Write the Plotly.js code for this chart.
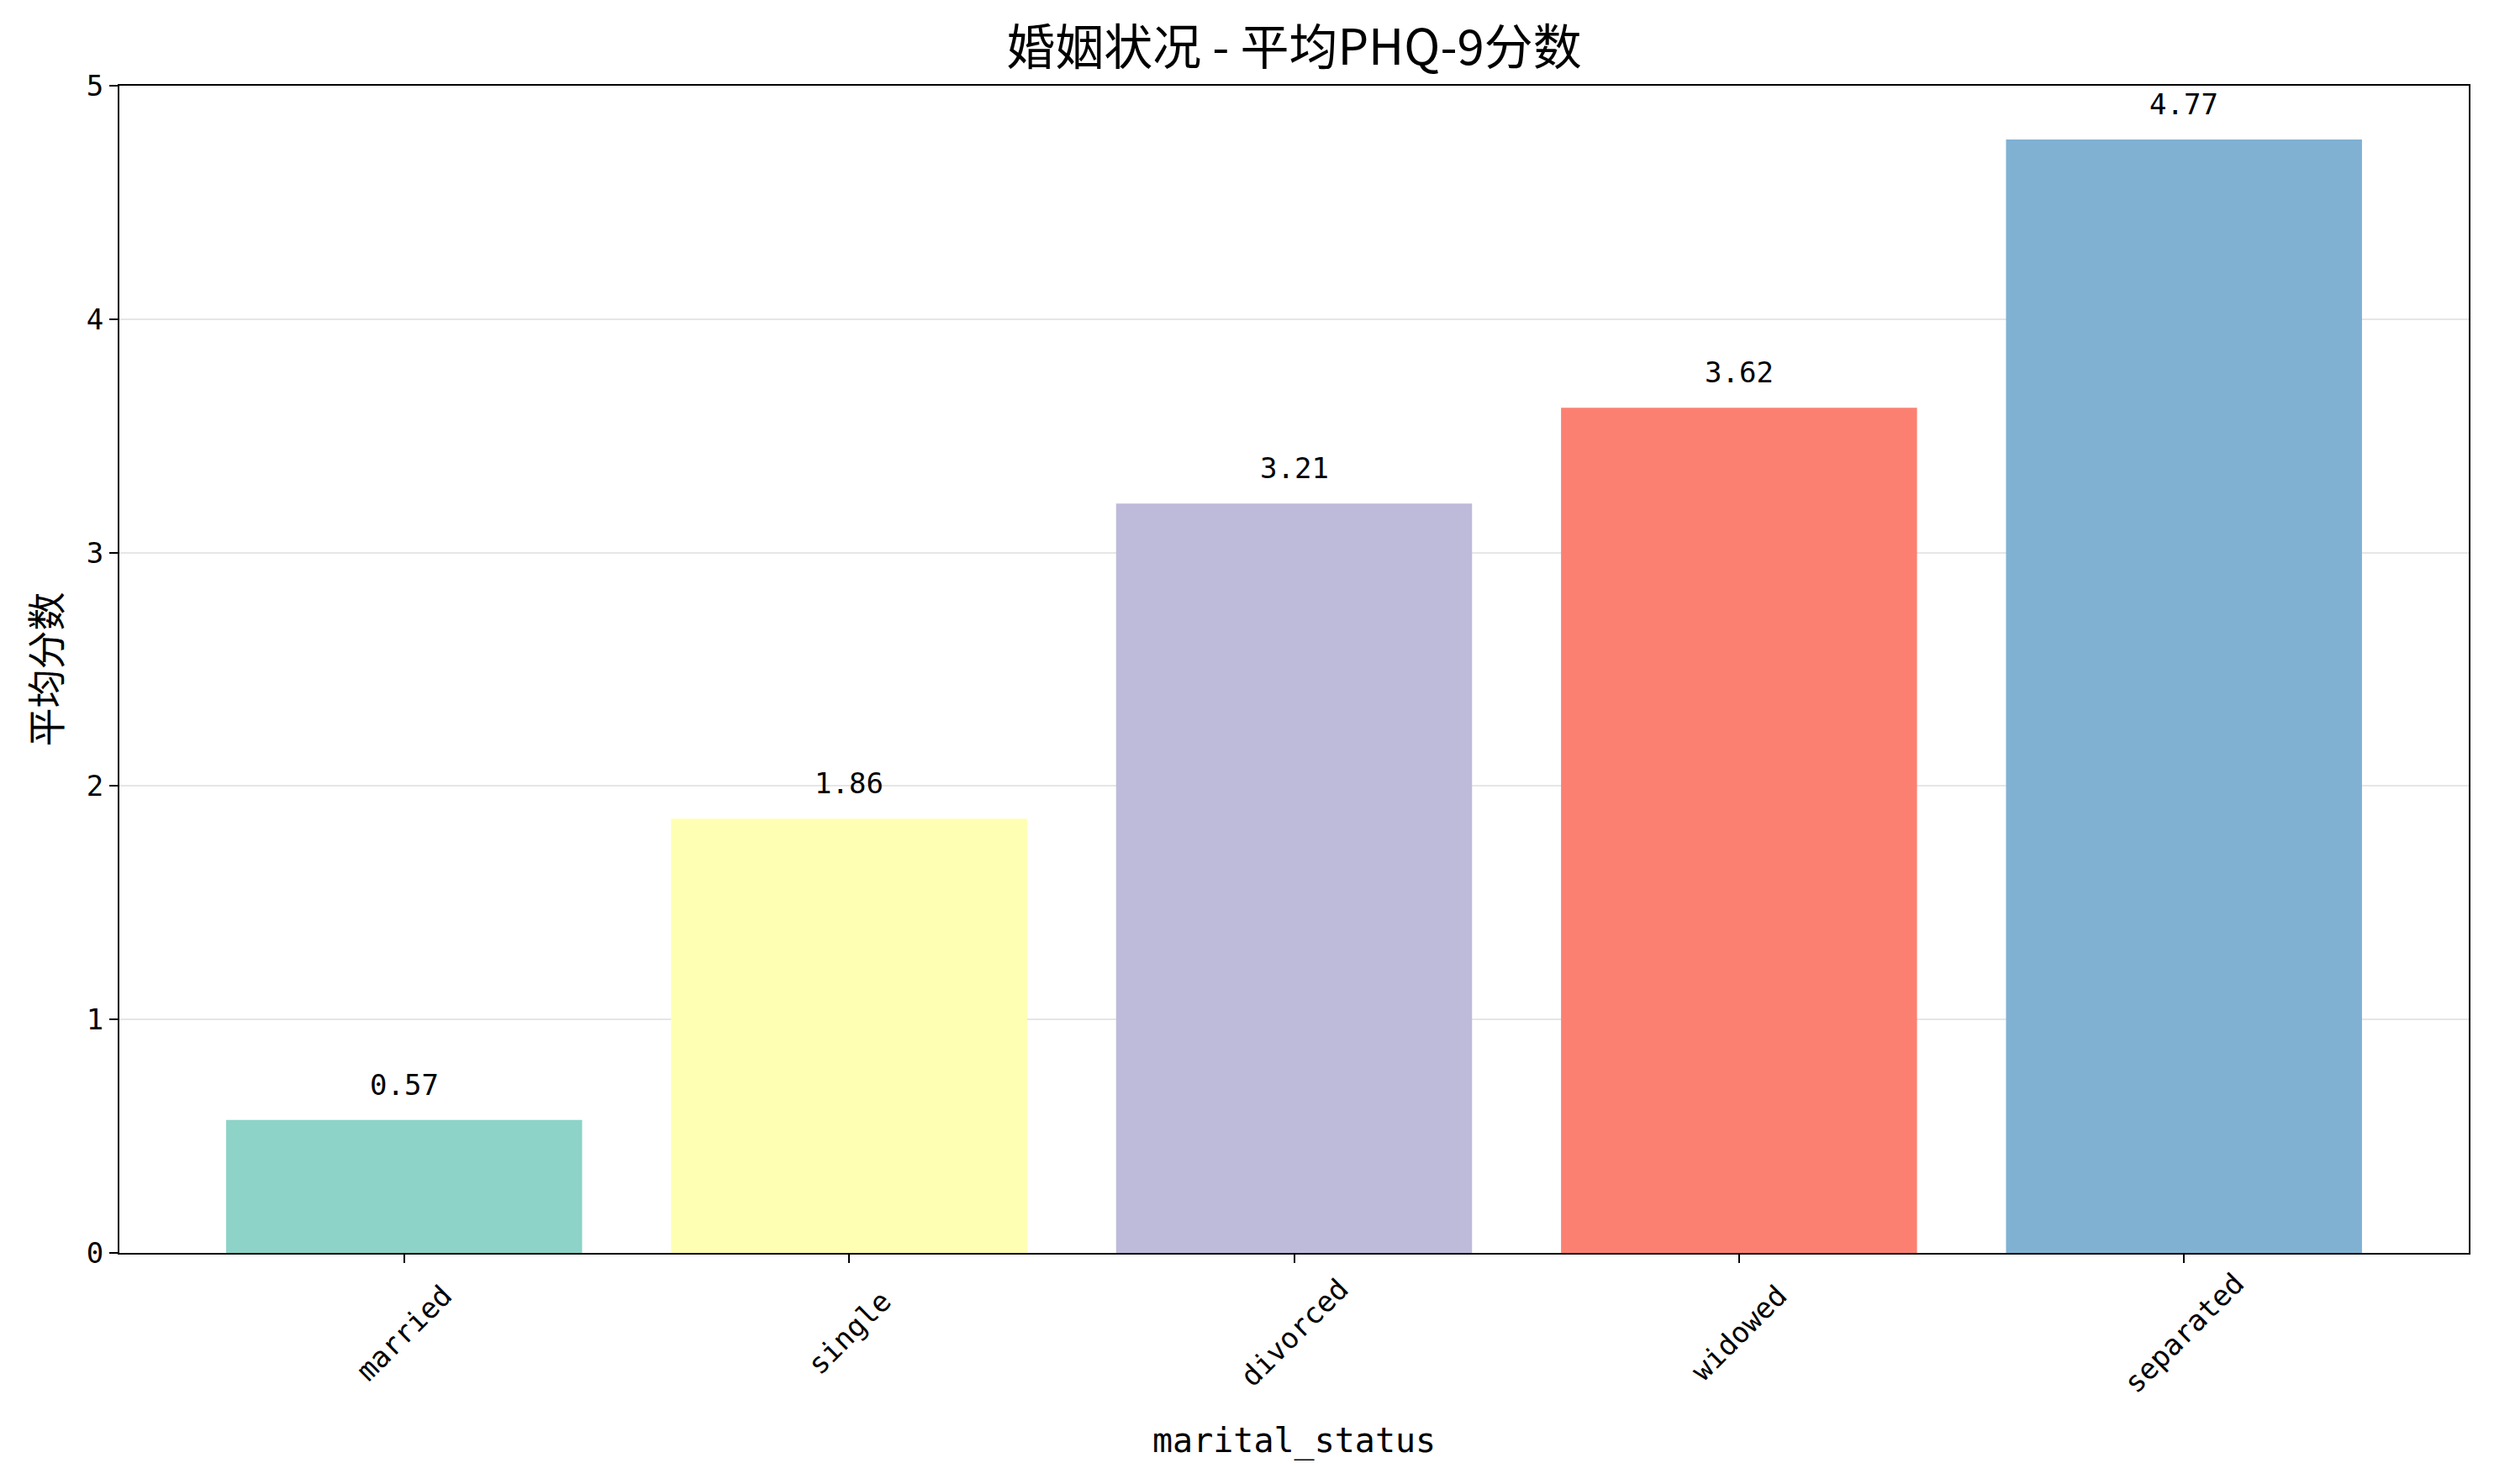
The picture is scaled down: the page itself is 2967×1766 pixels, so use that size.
<!DOCTYPE html>
<html>
<head>
<meta charset="utf-8">
<script src="https://cdn.plot.ly/plotly-3.0.1.min.js"></script>
<style>html,body{margin:0;padding:0;background:#fff;}#chart{width:2967px;height:1766px;}</style>
</head>
<body>
<div id="chart"></div>
<script>
const categories = ["married", "single", "divorced", "widowed", "separated"];
const meanScores = [0.57, 1.86, 3.21, 3.62, 4.77];
const valueLabels = ["0.57", "1.86", "3.21", "3.62", "4.77"];
const barColors = ["#8dd3c7", "#ffffb3", "#bebada", "#fb8072", "#80b1d3"];
const yTicks = [0, 1, 2, 3, 4, 5];
const titleText = "婚姻状况 - 平均PHQ-9分数";
const xTitle = "marital_status";
const yTitle = "平均分数";

const FONT = "'DejaVu Sans Mono', 'Liberation Mono', 'Noto Sans CJK SC', monospace";
const CJK = "'Noto Sans CJK SC', 'DejaVu Sans Mono', sans-serif";

const xIdx = categories.map((_, i) => i);

const trace = {
  type: "bar",
  x: xIdx,
  y: meanScores,
  width: 0.8,
  marker: { color: barColors, line: { width: 0 } },
  hoverinfo: "skip",
  showlegend: false
};

const annotations = [];
categories.forEach((c, i) => {
  annotations.push({
    x: i, y: meanScores[i], xref: "x", yref: "y",
    text: valueLabels[i], showarrow: false,
    yanchor: "bottom", xanchor: "center", yshift: 20,
    font: { family: FONT, size: 34, color: "#000" }
  });
  annotations.push({
    x: i, y: 0, xref: "x", yref: "paper",
    text: c, showarrow: false, textangle: -45,
    xanchor: "center", yanchor: "middle", yshift: -95,
    font: { family: FONT, size: 34, color: "#000" }
  });
});
annotations.push({
  x: 0.5, y: 0, xref: "paper", yref: "paper",
  text: xTitle, showarrow: false, xanchor: "center", yanchor: "middle",
  yshift: -223, font: { family: FONT, size: 40, color: "#000" }
});

const layout = {
  width: 2967, height: 1766,
  margin: { l: 142, r: 30, t: 102, b: 275, pad: 0 },
  paper_bgcolor: "#fff", plot_bgcolor: "#fff",
  title: {
    text: titleText, x: 0.5, xref: "paper", y: 1 - 57/1766, yref: "container",
    xanchor: "center", yanchor: "middle",
    font: { family: CJK, size: 58, color: "#000" }
  },
  xaxis: {
    range: [-0.64, 4.64],
    tickvals: xIdx, ticktext: categories, showticklabels: false,
    ticks: "outside", ticklen: 10, tickwidth: 2, tickcolor: "#000",
    showline: true, linecolor: "#000", linewidth: 2, mirror: true,
    showgrid: false, zeroline: false, fixedrange: true
  },
  yaxis: {
    range: [0, 5], tickvals: yTicks, ticktext: yTicks.map(String),
    ticks: "outside", ticklen: 10, tickwidth: 2, tickcolor: "#000",
    tickfont: { family: FONT, size: 34, color: "#000" },
    showline: true, linecolor: "#000", linewidth: 2, mirror: true,
    showgrid: true, gridcolor: "#e6e6e6", gridwidth: 2,
    zeroline: false, fixedrange: true,
    title: { text: yTitle, standoff: 16, font: { family: CJK, size: 46, color: "#000" } }
  },
  annotations: annotations,
  bargap: 0.2
};

Plotly.newPlot("chart", [trace], layout, { displayModeBar: false, staticPlot: true });
</script>
</body>
</html>
